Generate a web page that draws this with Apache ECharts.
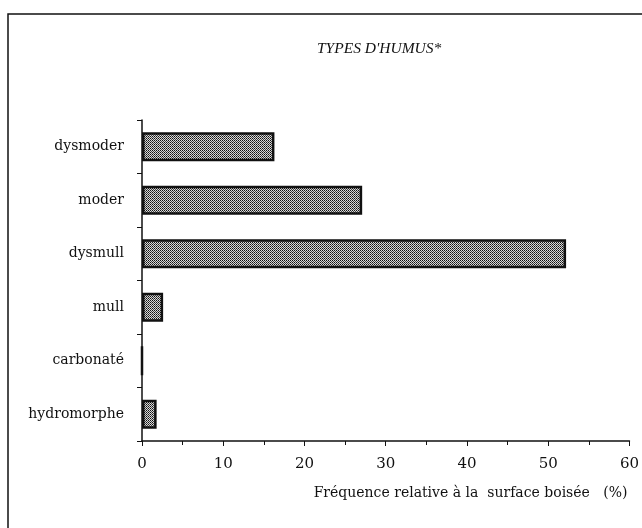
<!DOCTYPE html>
<html>
<head>
<meta charset="utf-8">
<script src="https://cdn.jsdelivr.net/npm/echarts@6/dist/echarts.min.js"></script>
<style>
  html, body { margin: 0; padding: 0; background: #fff; }
  #chart { width: 642px; height: 528px; }
</style>
</head>
<body>
<div id="chart"></div>
<script>
  // types d'humus, de haut en bas
  var categories = ['dysmoder', 'moder', 'dysmull', 'mull', 'carbonaté', 'hydromorphe'];
  // fréquence relative à la surface boisée (%)
  var values = [16.3, 27.1, 52.2, 2.6, 0, 1.8];
  var xTicks = [0, 10, 20, 30, 40, 50, 60];

  // trame pointillée des barres
  var tile = document.createElement('canvas');
  tile.width = 4;
  tile.height = 4;
  var ctx = tile.getContext('2d');
  ctx.fillStyle = '#d8d8d8';
  ctx.fillRect(0, 0, 4, 4);
  for (var i = 0; i < 4; i++) {
    for (var j = 0; j < 4; j++) {
      if ((i + j) % 2 === 0) {
        ctx.fillStyle = (j % 2 === 0) ? '#111' : '#444';
        ctx.fillRect(i, j, 1, 1);
      }
    }
  }

  var serif = '"DejaVu Serif", "Liberation Serif", serif';
  var myChart = echarts.init(document.getElementById('chart'));
  var option = {
    backgroundColor: '#fff',
    animation: false,
    title: {
      text: "TYPES D'HUMUS*",
      left: 312,
      top: 36,
      textStyle: {
        fontFamily: '"Liberation Serif", serif',
        fontStyle: 'italic',
        fontWeight: 'normal',
        fontSize: 15.5,
        color: '#111'
      }
    },
    graphic: [{
      type: 'rect',
      shape: { x: 8, y: 14, width: 700, height: 600 },
      style: { fill: 'none', stroke: '#111', lineWidth: 1.5 }
    }],
    grid: {
      left: 142,
      right: 10,
      top: 120,
      bottom: 87
    },
    xAxis: {
      type: 'value',
      min: xTicks[0],
      max: xTicks[xTicks.length - 1],
      interval: 10,
      name: 'Fréquence relative à la  surface boisée   (%)',
      nameLocation: 'end',
      nameGap: -2,
      nameTextStyle: {
        fontFamily: serif,
        fontSize: 14,
        color: '#111',
        align: 'right',
        verticalAlign: 'top',
        padding: [45, 0, 0, 0]
      },
      axisLine: { show: true, lineStyle: { color: '#111', width: 1.5 } },
      axisTick: { show: true, length: 5, lineStyle: { color: '#111' } },
      minorTick: { show: true, splitNumber: 2, length: 4, lineStyle: { color: '#111' } },
      splitLine: { show: false },
      axisLabel: {
        margin: 16,
        fontFamily: serif,
        fontSize: 15,
        color: '#111'
      }
    },
    yAxis: {
      type: 'category',
      inverse: true,
      data: categories,
      axisLine: { show: true, lineStyle: { color: '#111', width: 1.5 } },
      axisTick: { show: true, length: 5, lineStyle: { color: '#111' } },
      axisLabel: {
        margin: 18,
        fontFamily: serif,
        fontSize: 14,
        color: '#111'
      }
    },
    series: [{
      type: 'bar',
      data: values,
      barWidth: 29,
      itemStyle: {
        color: { image: tile, repeat: 'repeat' },
        borderColor: '#111',
        borderWidth: 2.5
      }
    }]
  };
  myChart.setOption(option);
</script>
</body>
</html>
